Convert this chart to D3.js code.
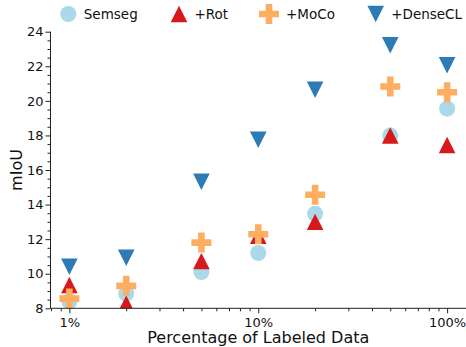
<!DOCTYPE html>
<html>
  <head>
    <meta charset="utf-8">
    <script src="https://d3js.org/d3.v7.min.js"></script>
    <style>
      body { margin: 0; background: #fff; }
      svg text { font-family: "DejaVu Sans", sans-serif; fill: #111; }
    </style>
  </head>
  <body>
    <div id="chart"></div>
    <script>
      // dados
      var percentuais = [1, 2, 5, 10, 20, 50, 100];
      var semseg  = [8.4, 8.85, 10.1, 11.2, 13.47, 18.0, 19.55];
      var rot     = [9.35, 8.27, 10.73, 12.2, 13.0, 18.0, 17.45];
      var moco    = [8.56, 9.3, 11.8, 12.28, 14.57, 20.83, 20.5];
      var densecl = [10.4, 10.92, 15.32, 17.75, 20.64, 23.22, 22.06];

      var nomesSeries = ["Semseg", "+Rot", "+MoCo", "+DenseCL"];
      var coresSeries = ["#abd9e9", "#d7191c", "#fdae61", "#2c7bb6"];
      var marcadores  = ["circle", "up", "plus", "down"];
      var yTicks = [8, 10, 12, 14, 16, 18, 20, 22, 24];
      var xTicks = [1, 10, 100];

      var largura = 466, altura = 347;
      var margem = {top: 31.7, right: 0, bottom: 38.7, left: 50.5};

      var svg = d3.select("#chart").append("svg")
        .attr("width", largura).attr("height", altura);

      var x = d3.scaleLog()
        .domain([Math.pow(10, -0.1), Math.pow(10, 2.1)])
        .range([margem.left, largura - margem.right]);
      var y = d3.scaleLinear()
        .domain([8, 24])
        .range([altura - margem.bottom, margem.top]);

      // caminho de cada marcador, centrado em (0,0)
      function caminho(tipo) {
        if (tipo === "circle") return d3.symbol(d3.symbolCircle, Math.PI * 8 * 8)();
        var w = 8.3, h = 8.2, p = 10, t = 3.3;
        if (tipo === "up") return "M0," + (-h) + "L" + w + "," + h + "L" + (-w) + "," + h + "Z";
        if (tipo === "down") return "M0," + h + "L" + w + "," + (-h) + "L" + (-w) + "," + (-h) + "Z";
        return "M" + (-t) + "," + (-p) + "H" + t + "V" + (-t) + "H" + p + "V" + t + "H" + t +
               "V" + p + "H" + (-t) + "V" + t + "H" + (-p) + "V" + (-t) + "H" + (-t) + "Z";
      }

      svg.append("clipPath").attr("id", "area")
        .append("rect")
        .attr("x", margem.left).attr("y", margem.top)
        .attr("width", largura - margem.left - margem.right)
        .attr("height", altura - margem.top - margem.bottom);

      var series = [semseg, rot, moco, densecl];
      var pontos = svg.append("g").attr("clip-path", "url(#area)");
      series.forEach(function(valores, i) {
        pontos.append("g").selectAll("path")
          .data(valores)
          .enter().append("path")
          .attr("d", caminho(marcadores[i]))
          .attr("transform", (d, j) => "translate(" + x(percentuais[j]) + "," + y(d) + ")")
          .attr("fill", coresSeries[i]);
      });

      // eixo y (maiores com rótulo, menores a cada 0.5)
      var eixoY = svg.append("g")
        .attr("transform", "translate(" + margem.left + ",0)")
        .call(d3.axisLeft(y).tickValues(yTicks).tickSize(5).tickPadding(2).tickFormat(d3.format("d")));
      svg.append("g")
        .attr("transform", "translate(" + margem.left + ",0)")
        .call(d3.axisLeft(y).tickValues(d3.range(8, 24.01, 0.5).filter(v => v % 2 !== 0))
                .tickSize(3).tickFormat(""))
        .select(".domain").remove();

      // eixo x (log)
      var menores = [];
      [0.1, 1, 10, 100].forEach(function(dec) {
        for (var k = 2; k <= 9; k++) {
          var v = k * dec;
          if (v >= x.domain()[0] && v <= x.domain()[1]) menores.push(v);
        }
      });
      var eixoX = svg.append("g")
        .attr("transform", "translate(0," + (altura - margem.bottom) + ")")
        .call(d3.axisBottom(x).tickValues(xTicks).tickSize(5).tickPadding(4).tickFormat(d => d + "%"));
      svg.append("g")
        .attr("transform", "translate(0," + (altura - margem.bottom) + ")")
        .call(d3.axisBottom(x).tickValues(menores).tickSize(3).tickFormat(""))
        .select(".domain").remove();

      svg.selectAll(".tick line").attr("stroke", "#222");
      // sem as "orelhas" nas pontas dos domínios
      eixoY.select(".domain").attr("stroke", "#222").attr("d", "M0," + y(24) + "V" + y(8));
      eixoX.select(".domain").attr("stroke", "#222").attr("d", "M" + x.range()[0] + ",0H" + x.range()[1]);
      svg.selectAll(".tick text").style("font-size", "13px").attr("fill", "#111");

      // rótulos dos eixos
      svg.append("text")
        .attr("x", (x.range()[0] + x.range()[1]) / 2)
        .attr("y", 343)
        .attr("text-anchor", "middle")
        .style("font-size", "16px")
        .text("Percentage of Labeled Data");
      svg.append("text")
        .attr("transform", "translate(22," + (y(16)) + ") rotate(-90)")
        .attr("text-anchor", "middle")
        .style("font-size", "16px")
        .text("mIoU");

      // legenda
      var legX = [68.3, 179, 269, 375.7];
      var legenda = svg.append("g");
      nomesSeries.forEach(function(nome, i) {
        legenda.append("path")
          .attr("d", caminho(marcadores[i]))
          .attr("transform", "translate(" + legX[i] + ",14)")
          .attr("fill", coresSeries[i]);
        legenda.append("text")
          .attr("x", legX[i] + (i === 2 ? 17 : 15.5))
          .attr("y", 19)
          .style("font-size", "13.5px")
          .text(nome);
      });
    </script>
  </body>
</html>
